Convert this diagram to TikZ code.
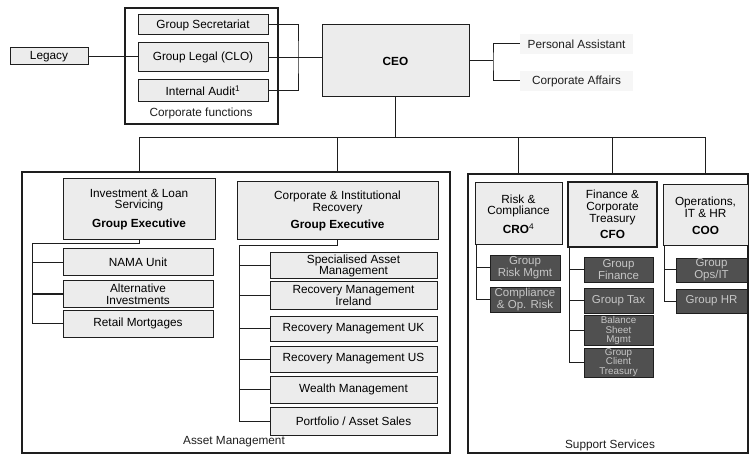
\documentclass[tikz,border=0pt]{standalone}
\usepackage{fontspec}
\setmainfont{Liberation Sans}
\usepackage{tikz}
\definecolor{ink}{HTML}{1E1E1E}
\definecolor{boxfill}{HTML}{ECECEC}
\definecolor{darkfill}{HTML}{505050}
\definecolor{darktext}{HTML}{C6C6C6}
\definecolor{faint}{HTML}{F6F6F6}
\tikzset{
  unit/.style={draw=ink,line width=1pt,fill=boxfill,align=center,inner sep=1pt,
    font=\fontsize{11.8}{11.8}\selectfont},
  sub/.style={draw=ink,line width=0.8pt,fill=darkfill,text=darktext,align=center,
    inner sep=0.5pt,font=\fontsize{11.5}{10.5}\selectfont},
  tall/.style={font=\fontsize{9.8}{9.6}\selectfont},
  division/.style={draw=ink,line width=1.4pt},
  link/.style={draw=ink,line width=1pt},
  caption/.style={font=\fontsize{11.8}{12}\selectfont,text=ink},
  wh/.style 2 args={minimum width=#1,minimum height=#2}
}

\begin{document}
\begin{tikzpicture}[x=1pt,y=-1pt]
  \useasboundingbox (0,0) rectangle (750,457);
  % top row
  \node[division,wh={153}{116}] (cf) at (201.5,66) {};
  \node[caption] (cflbl) at (201,113) {Corporate functions};
  \node[unit,wh={130}{20}] (gs) at (203,25) {Group Secretariat};
  \node[unit,wh={130}{29}] (gl) at (203,57.5) {Group Legal (CLO)};
  \node[unit,wh={130}{22}] (ia) at (203,91) {Internal Audit\textsuperscript{1}};
  \node[unit,wh={78}{17}] (legacy) at (49,56.5) {Legacy};
  \node[unit,wh={147}{72}] (ceo) at (395.5,61) {\textbf{CEO}};
  \node[caption,fill=faint,wh={113}{20}] (pa) at (576.5,44) {Personal Assistant};
  \node[caption,fill=faint,wh={113}{20}] (ca) at (576.5,81) {Corporate Affairs};
  \coordinate (cfjoin) at (298,57);
  \coordinate (pajoin) at (493,61);
  \coordinate (bus) at (0,138);
  \draw[link] (gs.east) -| (cfjoin) |- (ia.east);
  \draw[link] (gl.east) -- (gl.east -| ceo.west);
  \draw[link] (legacy.east) -- (legacy.east -| gl.west);
  \draw[link] (ceo.east) -- (ceo.east -| pajoin);
  \draw[link] (pa.west) -| (pajoin) |- (ca.west);

  % asset management
  \node[division,wh={428}{281}] (am) at (236,312.5) {};
  \node[caption] (amlbl) at (234,442) {Asset Management};
  \node[unit,wh={152}{61}] (ils) at (139,209.5)
    {Investment \& Loan\\Servicing\\[7pt]\textbf{Group Executive}};
  \node[unit,wh={150}{27}] (nama) at (138,262.5) {NAMA Unit};
  \node[unit,wh={150}{26}] (alt) at (138,294) {Alternative\\Investments};
  \node[unit,wh={150}{27}] (ret) at (138,323.5) {Retail Mortgages};
  \node[unit,wh={201}{58}] (cir) at (337.5,211)
    {Corporate \& Institutional\\Recovery\\[6pt]\textbf{Group Executive}};
  \node[unit,wh={167}{26}] (sam) at (353.5,266) {Specialised Asset\\Management};
  \node[unit,wh={167}{27}] (rmi) at (353.5,295.5) {Recovery Management\\Ireland};
  \node[unit,wh={167}{25}] (rmuk) at (353.5,328.5) {Recovery Management UK};
  \node[unit,wh={167}{26}] (rmus) at (353.5,359) {Recovery Management US};
  \node[unit,wh={167}{27}] (wm) at (353.5,389.5) {Wealth Management};
  \node[unit,wh={167}{28}] (pas) at (353.5,421) {Portfolio / Asset Sales};
  \coordinate (ilsjoin) at (32,244);
  \coordinate (cirjoin) at (239,246);
  \draw[link] (ils.south) |- (ilsjoin) |- (ret.west);
  \foreach \n in {nama,alt} \draw[link] (ilsjoin) |- (\n.west);
  \draw[link] (cir.south) |- (cirjoin) |- (pas.west);
  \foreach \n in {sam,rmi,rmuk,rmus,wm} \draw[link] (cirjoin) |- (\n.west);

  % support services
  \node[division,wh={280}{279}] (ss) at (608,313.5) {};
  \node[caption] (sslbl) at (610,445) {Support Services};
  \node[unit,wh={87}{62}] (rc) at (518.5,214) {Risk \&\\Compliance\\[5pt]\textbf{CRO}\textsuperscript{4}};
  \node[unit,line width=1.6pt,wh={89}{65}] (fct) at (612.5,214.5)
    {Finance \&\\Corporate\\Treasury\\[5pt]\textbf{CFO}};
  \node[unit,wh={85}{61}] (ops) at (705.5,215.5) {Operations,\\IT \& HR\\[5pt]\textbf{COO}};
  \node[sub,wh={70}{25}] (grm) at (525,267.5) {Group\\Risk Mgmt};
  \node[sub,wh={70}{25}] (cor) at (525,299.5) {Compliance\\\& Op. Risk};
  \node[sub,wh={69}{25}] (gf) at (618.5,269.5) {Group\\Finance};
  \node[sub,wh={69}{25}] (gt) at (618.5,300.5) {Group Tax};
  \node[sub,tall,wh={69}{27}] (bsm) at (618.5,330.5) {Balance\\Sheet\\Mgmt};
  \node[sub,tall,wh={69}{28}] (gct) at (618.5,362.5) {Group\\Client\\Treasury};
  \node[sub,wh={71}{24}] (goi) at (711.5,270) {Group\\Ops/IT};
  \node[sub,wh={71}{24}] (ghr) at (711.5,301) {Group HR};
  \foreach \h/\s in {rc/grm,rc/cor,fct/gf,fct/gt,fct/bsm,fct/gct,ops/goi,ops/ghr}
    \draw[link] ([xshift=2pt]\h.south west) |- (\s.west);

  % reporting lines from the CEO
  \draw[link] (ceo.south) -- (ceo.south |- bus);
  \draw[link] (ils.north |- bus) -- (ops.north |- bus);
  \draw[link] (ils.north |- bus) -- (ils.north |- am.north);
  \draw[link] (cir.north |- bus) -- (cir.north |- am.north);
  \foreach \n in {rc,fct,ops} \draw[link] (\n.north |- bus) -- (\n.north |- ss.north);
\end{tikzpicture}
\end{document}
